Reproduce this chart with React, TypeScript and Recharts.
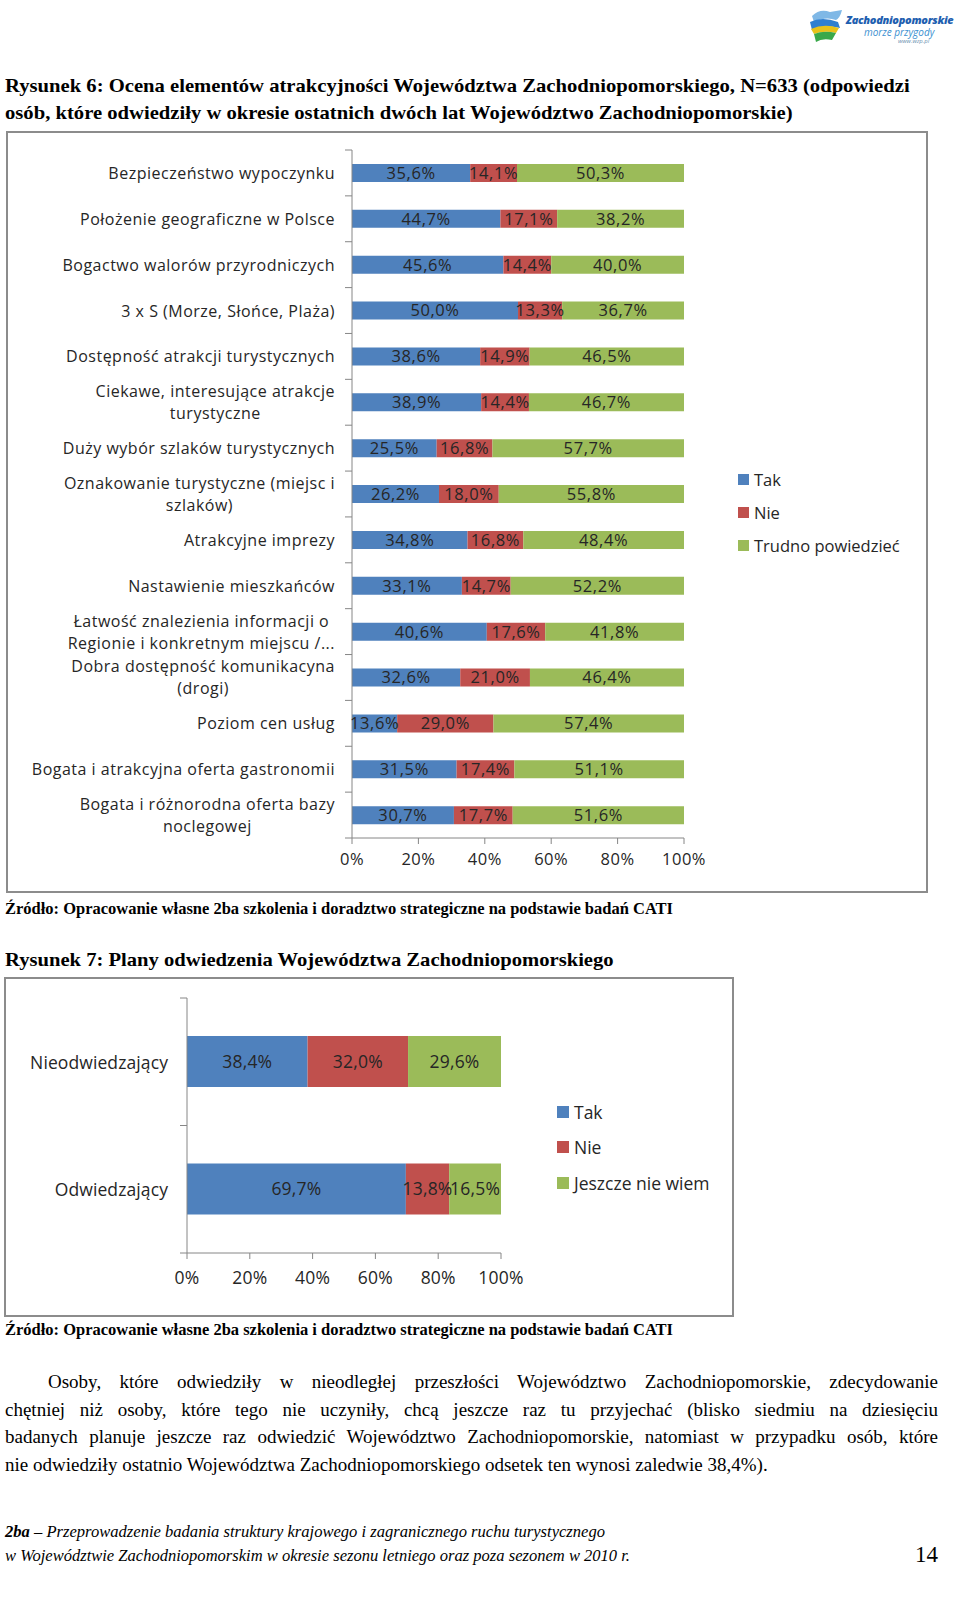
import React from 'react';
import { BarChart, Bar, XAxis, YAxis, Legend, LabelList } from 'recharts';

// Rysunek 6
const categories1 = [
  'Bezpieczeństwo wypoczynku',
  'Położenie geograficzne w Polsce',
  'Bogactwo walorów przyrodniczych',
  '3 x S (Morze, Słońce, Plaża)',
  'Dostępność atrakcji turystycznych',
  'Ciekawe, interesujące atrakcje\nturystyczne',
  'Duży wybór szlaków turystycznych',
  'Oznakowanie turystyczne (miejsc i\nszlaków)',
  'Atrakcyjne imprezy',
  'Nastawienie mieszkańców',
  'Łatwość znalezienia informacji o\nRegionie i konkretnym miejscu /...',
  'Dobra dostępność komunikacyna\n(drogi)',
  'Poziom cen usług',
  'Bogata i atrakcyjna oferta gastronomii',
  'Bogata i różnorodna oferta bazy\nnoclegowej',
];
const tak1 = [35.6, 44.7, 45.6, 50.0, 38.6, 38.9, 25.5, 26.2, 34.8, 33.1, 40.6, 32.6, 13.6, 31.5, 30.7];
const nie1 = [14.1, 17.1, 14.4, 13.3, 14.9, 14.4, 16.8, 18.0, 16.8, 14.7, 17.6, 21.0, 29.0, 17.4, 17.7];
const trudno1 = [50.3, 38.2, 40.0, 36.7, 46.5, 46.7, 57.7, 55.8, 48.4, 52.2, 41.8, 46.4, 57.4, 51.1, 51.6];
const series1 = ['Tak', 'Nie', 'Trudno powiedzieć'];

// Rysunek 7
const categories2 = ['Nieodwiedzający', 'Odwiedzający'];
const tak2 = [38.4, 69.7];
const nie2 = [32.0, 13.8];
const jeszcze2 = [29.6, 16.5];
const series2 = ['Tak', 'Nie', 'Jeszcze nie wiem'];

const percentTicks = [0, 20, 40, 60, 80, 100];

const BLUE = '#4F81BD';
const RED = '#C0504D';
const GREEN = '#9BBB59';
const AXIS = '#868686';
const TEXT = '#262626';
const SANS = '"Open Sans", "Noto Sans", sans-serif';
const SERIF = '"Liberation Serif", "Times New Roman", serif';

const data1 = categories1.map((name, i) => ({ name, tak: tak1[i], nie: nie1[i], trudno: trudno1[i] }));
const data2 = categories2.map((name, i) => ({ name, tak: tak2[i], nie: nie2[i], jeszcze: jeszcze2[i] }));

const pct = (v: number) => `${v}%`;
const pct1 = (v: any) => `${Number(v).toFixed(1).replace('.', ',')}%`;

let canvas: HTMLCanvasElement | null = null;
function textWidth(text: string, font: string) {
  if (!canvas) canvas = document.createElement('canvas');
  const ctx = canvas.getContext('2d')!;
  ctx.font = font;
  return ctx.measureText(text).width;
}

function CatTick(props: any) {
  const { x, y, payload, gap, fontSize, spacing, lineH, band, last } = props;
  const parts = String(payload.value).split('\n');
  const font = `${fontSize}px ${SANS}`;
  const maxW = Math.max(...parts.map((p: string) => textWidth(p, font) + p.length * spacing));
  const cx = x - maxW / 2;
  const axisX = x + gap;
  const half = payload.offset || band / 2;
  return (
    <g>
      <line x1={axisX - 7} x2={axisX} y1={y - half} y2={y - half} stroke={AXIS} />
      {payload.index === last && (
        <line x1={axisX - 7} x2={axisX} y1={y + half} y2={y + half} stroke={AXIS} />
      )}
      {parts.map((p: string, i: number) => (
        <text
          key={i}
          x={cx}
          y={y + (i - (parts.length - 1) / 2) * lineH}
          textAnchor="middle"
          dominantBaseline="central"
          fontSize={fontSize}
          fontFamily={SANS}
          letterSpacing={spacing}
          fill={TEXT}
        >
          {p}
        </text>
      ))}
    </g>
  );
}

function SideLegend({ payload, order, padLeft, pitch, box, fontSize }: any) {
  const items = [...(payload || [])].sort((a: any, b: any) => order.indexOf(a.value) - order.indexOf(b.value));
  return (
    <div style={{ paddingLeft: padLeft, fontFamily: SANS, fontSize, color: TEXT }}>
      {items.map((e: any) => (
        <div key={e.value} style={{ height: pitch, display: 'flex', alignItems: 'center', whiteSpace: 'nowrap' }}>
          <span style={{ width: box, height: box, background: e.color, marginRight: 5, display: 'inline-block' }} />
          {e.value}
        </div>
      ))}
    </div>
  );
}

function FitLine({ text, left, cy, width, size, weight = 'normal', italic = false, children }: any) {
  const font = `${italic ? 'italic' : 'normal'} ${weight} ${size}px ${SERIF}`;
  const sx = width / textWidth(text, font);
  return (
    <div
      style={{
        position: 'absolute',
        left,
        top: cy - size * 0.62,
        fontFamily: SERIF,
        fontSize: size,
        lineHeight: `${size * 1.2}px`,
        fontWeight: weight,
        fontStyle: italic ? 'italic' : 'normal',
        whiteSpace: 'nowrap',
        color: '#000',
        transform: `scaleX(${sx})`,
        transformOrigin: 'left center',
      }}
    >
      {children ?? text}
    </div>
  );
}

const paragraph = [
  'Osoby, które odwiedziły w nieodległej przeszłości Województwo Zachodniopomorskie, zdecydowanie',
  'chętniej niż osoby, które tego nie uczyniły, chcą jeszcze raz tu przyjechać (blisko siedmiu na dziesięciu',
  'badanych planuje jeszcze raz odwiedzić Województwo Zachodniopomorskie, natomiast w przypadku osób, które',
  'nie odwiedziły ostatnio Województwa Zachodniopomorskiego odsetek ten wynosi zaledwie 38,4%).',
];

function Logo() {
  return (
    <div style={{ position: 'absolute', left: 806, top: 4, width: 135, height: 44 }}>
      <svg width={40} height={40} style={{ position: 'absolute', left: 0, top: 2 }}>
        <path d="M6 10 Q14 2 24 6 L36 4 Q34 12 30 14 Q20 10 8 16 Z" fill="#7fb8e6" />
        <path d="M4 16 Q16 10 32 16 L34 22 Q20 18 6 24 Z" fill="#2f7fd0" />
        <path d="M5 23 Q18 17 33 22 L30 27 Q18 24 8 28 Z" fill="#e8c21a" />
        <path d="M8 28 Q18 24 30 27 L26 34 Q16 32 10 36 Z" fill="#3aa84a" />
      </svg>
      <div style={{ position: 'absolute', left: 40, top: 8, fontFamily: SANS, fontWeight: 800, fontStyle: 'italic', fontSize: 11, color: '#1f5fb0', letterSpacing: -0.3, whiteSpace: 'nowrap' }}>
        Zachodniopomorskie
      </div>
      <div style={{ position: 'absolute', left: 58, top: 21, fontFamily: SANS, fontStyle: 'italic', fontSize: 10, color: '#3b8fd0', whiteSpace: 'nowrap' }}>
        morze przygody
      </div>
      <div style={{ position: 'absolute', left: 92, top: 33, fontFamily: SANS, fontStyle: 'italic', fontSize: 6, color: '#6a8fb0', whiteSpace: 'nowrap' }}>
        www.wzp.pl
      </div>
    </div>
  );
}

const label1 = { fill: TEXT, fontSize: 16.5, fontFamily: SANS, letterSpacing: 0.6 };
const label2 = { fill: TEXT, fontSize: 17.5, fontFamily: SANS, letterSpacing: 0.2 };

export default function App() {
  return (
    <div style={{ position: 'absolute', left: 0, top: 0, width: 960, height: 1597, background: '#fff', overflow: 'hidden' }}>
      <Logo />

      <FitLine
        text="Rysunek 6: Ocena elementów atrakcyjności Województwa Zachodniopomorskiego, N=633 (odpowiedzi"
        left={5} cy={87} width={905} size={19} weight="bold"
      />
      <FitLine
        text="osób, które odwiedziły w okresie ostatnich dwóch lat Województwo Zachodniopomorskie)"
        left={5} cy={114} width={788} size={19} weight="bold"
      />

      {/* Rysunek 6 */}
      <div style={{ position: 'absolute', left: 6, top: 131, width: 922, height: 762, border: '2px solid #8c8c8c', boxSizing: 'border-box' }}>
        <BarChart
          width={918}
          height={758}
          layout="vertical"
          data={data1}
          margin={{ top: 17, right: 12, bottom: 23, left: 0 }}
          barSize={18}
        >
          <XAxis
            type="number"
            domain={[0, 100]}
            ticks={percentTicks}
            tickFormatter={pct}
            height={30}
            tickSize={6}
            tickMargin={9}
            stroke={AXIS}
            tick={{ fill: TEXT, fontSize: 16.5, fontFamily: SANS, letterSpacing: 0.5 } as any}
            interval={0}
          />
          <YAxis
            type="category"
            dataKey="name"
            width={344}
            interval={0}
            tickSize={0}
            tickMargin={17}
            stroke={AXIS}
            tick={(p: any) => (
              <CatTick {...p} gap={17} fontSize={16} spacing={0.5} lineH={22} band={46} last={categories1.length - 1} />
            )}
          />
          <Legend
            layout="vertical"
            align="right"
            verticalAlign="middle"
            wrapperStyle={{ width: 230 }}
            content={(p: any) => (
              <SideLegend payload={p.payload} order={series1} padLeft={54} pitch={33} box={11} fontSize={16.5} />
            )}
          />
          <Bar dataKey="tak" name={series1[0]} stackId="a" fill={BLUE} isAnimationActive={false}>
            <LabelList dataKey="tak" position="center" formatter={pct1} {...label1} />
          </Bar>
          <Bar dataKey="nie" name={series1[1]} stackId="a" fill={RED} isAnimationActive={false}>
            <LabelList dataKey="nie" position="center" formatter={pct1} {...label1} />
          </Bar>
          <Bar dataKey="trudno" name={series1[2]} stackId="a" fill={GREEN} isAnimationActive={false}>
            <LabelList dataKey="trudno" position="center" formatter={pct1} {...label1} />
          </Bar>
        </BarChart>
      </div>

      <FitLine
        text="Źródło: Opracowanie własne 2ba szkolenia i doradztwo strategiczne na podstawie badań CATI"
        left={5} cy={909} width={668} size={16} weight="bold"
      />

      <FitLine
        text="Rysunek 7: Plany odwiedzenia Województwa Zachodniopomorskiego"
        left={5} cy={961} width={609} size={19} weight="bold"
      />

      {/* Rysunek 7 */}
      <div style={{ position: 'absolute', left: 4, top: 977, width: 730, height: 340, border: '2px solid #8c8c8c', boxSizing: 'border-box' }}>
        <BarChart
          width={726}
          height={336}
          layout="vertical"
          data={data2}
          margin={{ top: 19, right: 11, bottom: 22, left: 0 }}
          barSize={51}
        >
          <XAxis
            type="number"
            domain={[0, 100]}
            ticks={percentTicks}
            tickFormatter={pct}
            height={40}
            tickSize={6}
            tickMargin={13}
            stroke={AXIS}
            tick={{ fill: TEXT, fontSize: 17.5, fontFamily: SANS, letterSpacing: 0.2 } as any}
            interval={0}
          />
          <YAxis
            type="category"
            dataKey="name"
            width={181}
            interval={0}
            tickSize={0}
            tickMargin={19}
            stroke={AXIS}
            tick={(p: any) => (
              <CatTick {...p} gap={19} fontSize={17.5} spacing={0.1} lineH={22} band={128} last={categories2.length - 1} />
            )}
          />
          <Legend
            layout="vertical"
            align="right"
            verticalAlign="middle"
            wrapperStyle={{ width: 220 }}
            content={(p: any) => (
              <SideLegend payload={p.payload} order={series2} padLeft={56} pitch={35.5} box={12} fontSize={17.5} />
            )}
          />
          <Bar dataKey="tak" name={series2[0]} stackId="a" fill={BLUE} isAnimationActive={false}>
            <LabelList dataKey="tak" position="center" formatter={pct1} {...label2} />
          </Bar>
          <Bar dataKey="nie" name={series2[1]} stackId="a" fill={RED} isAnimationActive={false}>
            <LabelList dataKey="nie" position="center" formatter={pct1} {...label2} />
          </Bar>
          <Bar dataKey="jeszcze" name={series2[2]} stackId="a" fill={GREEN} isAnimationActive={false}>
            <LabelList dataKey="jeszcze" position="center" formatter={pct1} {...label2} />
          </Bar>
        </BarChart>
      </div>

      <FitLine
        text="Źródło: Opracowanie własne 2ba szkolenia i doradztwo strategiczne na podstawie badań CATI"
        left={5} cy={1330} width={668} size={16} weight="bold"
      />

      {paragraph.map((line, i) => (
        <div
          key={i}
          style={{
            position: 'absolute',
            left: i === 0 ? 48 : 5,
            top: 1382 + i * 27.7 - 12,
            width: i === 0 ? 890 : 933,
            fontFamily: SERIF,
            fontSize: 19,
            lineHeight: '24px',
            whiteSpace: 'nowrap',
            textAlign: 'justify',
            textAlignLast: i < 3 ? 'justify' : 'left',
            color: '#000',
          }}
        >
          {line}
        </div>
      ))}

      <FitLine
        text="2ba – Przeprowadzenie badania struktury krajowego i zagranicznego ruchu turystycznego"
        left={5} cy={1533} width={600} size={17} italic
      >
        <b>2ba</b> – Przeprowadzenie badania struktury krajowego i zagranicznego ruchu turystycznego
      </FitLine>
      <FitLine
        text="w Województwie Zachodniopomorskim w okresie sezonu letniego oraz poza sezonem w 2010 r."
        left={5} cy={1557} width={625} size={17} italic
      />
      <FitLine text="14" left={915} cy={1555} width={23} size={23} />
    </div>
  );
}
